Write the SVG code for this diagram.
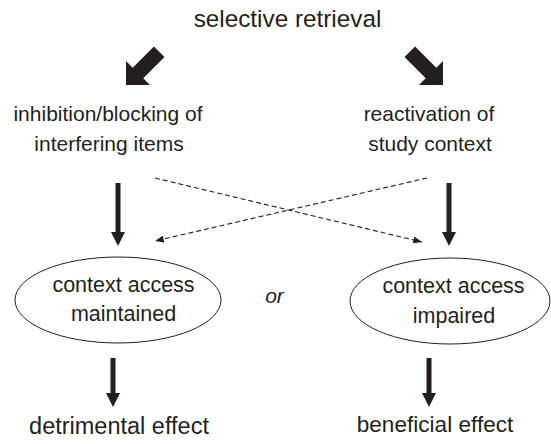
<svg xmlns="http://www.w3.org/2000/svg" width="551" height="444" viewBox="0 0 551 444">
<defs>
<style>
text{font-family:"Liberation Sans",Arial,sans-serif;fill:#231f20;text-anchor:middle}
.t1{font-size:24.3px}
.t2{font-size:21px}
.t3{font-size:21.5px}
.t4{font-size:23.5px}
.t5{font-size:22.6px}
.or{font-size:21px;font-style:italic}
.big{fill:#231f20}
.shaft{stroke:#231f20;stroke-width:5;fill:none}
.dash{stroke:#231f20;stroke-width:1.1;stroke-dasharray:5,3;fill:none}
.ell{fill:#fff;stroke:#231f20;stroke-width:1}
</style>
<marker id="ah" viewBox="0 0 10 8" refX="10" refY="4" markerWidth="9" markerHeight="7" markerUnits="userSpaceOnUse" orient="auto">
<path d="M0,0 L10,4 L0,8 Z" fill="#231f20"/>
</marker>
</defs>
<rect width="551" height="444" fill="#fff"/>
<g id="selective-retrieval"><text class="t1" x="287.5" y="27">selective retrieval</text></g>
<g id="inhibition"><text class="t2" x="108" y="121">inhibition/blocking of</text><text class="t2" x="109" y="151">interfering items</text></g>
<g id="reactivation"><text class="t2" x="429" y="121">reactivation of</text><text class="t2" x="430" y="151">study context</text></g>
<g id="maintained"><ellipse class="ell" cx="118" cy="300" rx="103" ry="43"/><text class="t3" x="123.5" y="292">context access</text><text class="t3" x="123.5" y="321">maintained</text></g>
<g id="or"><text class="or" x="274.5" y="303">or</text></g>
<g id="impaired"><ellipse class="ell" cx="450" cy="301" rx="100" ry="43"/><text class="t3" x="453.5" y="293">context access</text><text class="t3" x="454" y="323">impaired</text></g>
<g id="detrimental"><text class="t4" x="119" y="434">detrimental effect</text></g>
<g id="beneficial"><text class="t5" x="435" y="432">beneficial effect</text></g>
<g id="connectors">
<polygon class="big" points="126,85 126,61 132.7,67.7 153.9,46.5 164.5,57.1 143.3,78.3 150,85"/>
<polygon class="big" points="443,85 443,61 436.3,67.7 415.1,46.5 404.5,57.1 425.7,78.3 419,85"/>
<line class="shaft" x1="118" y1="183" x2="118" y2="233"/>
<polygon class="big" points="111,232 125,232 118,246"/>
<line class="shaft" x1="449" y1="183" x2="449" y2="233"/>
<polygon class="big" points="442,232 456,232 449,246"/>
<line class="shaft" x1="113" y1="358" x2="113" y2="394"/>
<polygon class="big" points="106,393 120,393 113,407"/>
<line class="shaft" x1="429" y1="358" x2="429" y2="394"/>
<polygon class="big" points="422,393 436,393 429,407"/>
<line class="dash" x1="155" y1="178" x2="422" y2="242" marker-end="url(#ah)"/>
<line class="dash" x1="427" y1="178" x2="155" y2="241" marker-end="url(#ah)"/>
</g>
</svg>
